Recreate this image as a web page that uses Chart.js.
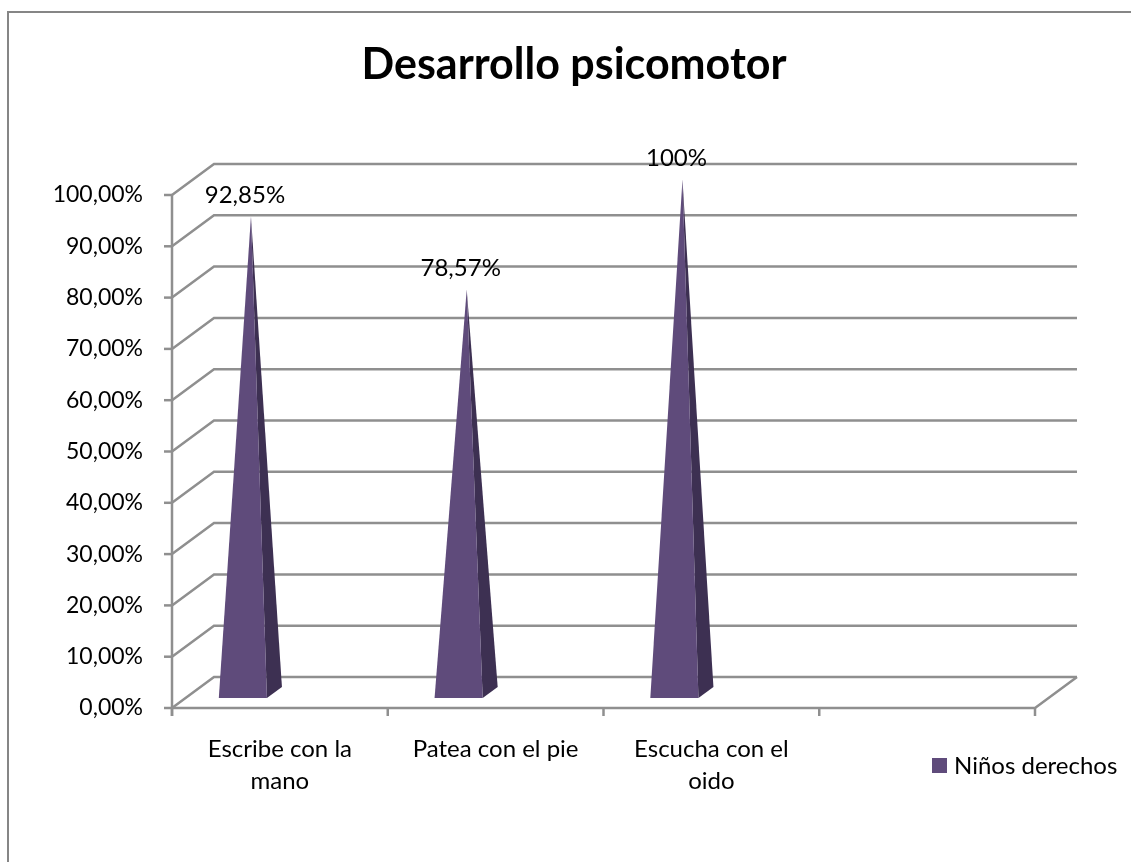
<!DOCTYPE html>
<html>
<head>
<meta charset="utf-8">
<title>Desarrollo psicomotor</title>
<script src="https://cdn.jsdelivr.net/npm/chart.js@4.4.1/dist/chart.umd.min.js"></script>
<style>
    html, body { margin: 0; padding: 0; background: #fff; }
    #wrap { position: relative; width: 1131px; height: 862px; }
</style>
</head>
<body>
<div id="wrap"><canvas id="chart" width="1131" height="862"></canvas></div>
<script>
// ── Data ────────────────────────────────────────────────
const categories = [['Escribe con la', 'mano'], 'Patea con el pie', ['Escucha con el', 'oido'], ''];
const seriesName = 'Niños derechos';
const seriesValues = [0.9285, 0.7857, 1.0, null];
const valueLabels = ['92,85%', '78,57%', '100%', ''];
const yTickLabels = ['0,00%', '10,00%', '20,00%', '30,00%', '40,00%', '50,00%',
                     '60,00%', '70,00%', '80,00%', '90,00%', '100,00%'];
const chartTitle = 'Desarrollo psicomotor';

// ── Look ────────────────────────────────────────────────
const FONT = 'Lato, "Open Sans", sans-serif';
const GRID = '#8f8f8f';
const FACE = '#5f4b7b';
const SIDE = '#3d3052';
const DEPTH_X = 42, DEPTH_Y = -31;

// 3D walls, floor, axis ticks
const wallPlugin = {
    id: 'walls',
    beforeDatasetsDraw(chart) {
        const { ctx, chartArea: a, scales: { x, y } } = chart;
        ctx.save();
        ctx.strokeStyle = GRID;
        ctx.lineWidth = 2.5;
        ctx.lineCap = 'butt';

        // back wall gridlines + left wall diagonals
        y.ticks.forEach(t => {
            const yf = y.getPixelForValue(t.value);
            ctx.beginPath();
            ctx.moveTo(a.left, yf);
            ctx.lineTo(a.left + DEPTH_X, yf + DEPTH_Y);
            ctx.lineTo(a.right + DEPTH_X, yf + DEPTH_Y);
            ctx.stroke();
            // tick mark
            ctx.beginPath();
            ctx.moveTo(a.left - 8, yf);
            ctx.lineTo(a.left, yf);
            ctx.stroke();
        });

        // front floor edge + right floor diagonal
        ctx.beginPath();
        ctx.moveTo(a.left, a.bottom);
        ctx.lineTo(a.right, a.bottom);
        ctx.lineTo(a.right + DEPTH_X, a.bottom + DEPTH_Y);
        ctx.stroke();

        // vertical axis
        ctx.beginPath();
        ctx.moveTo(a.left, y.getPixelForValue(1));
        ctx.lineTo(a.left, a.bottom + 8);
        ctx.stroke();

        // category boundary ticks
        const slot = x.getPixelForValue(1) - x.getPixelForValue(0);
        for (let i = 0; i <= categories.length; i++) {
            const bx = x.getPixelForValue(0) - slot / 2 + i * slot;
            ctx.beginPath();
            ctx.moveTo(bx, a.bottom);
            ctx.lineTo(bx, a.bottom + 8);
            ctx.stroke();
        }
        ctx.restore();
    },

    // pyramids, value labels, title, legend, frame
    afterDatasetsDraw(chart) {
        const { ctx, scales: { x } } = chart;
        const slot = x.getPixelForValue(1) - x.getPixelForValue(0);
        const meta = chart.getDatasetMeta(0);
        ctx.save();
        meta.data.forEach((el, i) => {
            if (seriesValues[i] == null) return;
            const fl = el.x - 0.283 * slot;
            const fr = el.x - 0.060 * slot;
            const by = el.base - 10;
            const ax = el.x - 0.134 * slot;
            const ay = el.y - 15.5;

            ctx.fillStyle = SIDE;
            ctx.beginPath();
            ctx.moveTo(fr, by);
            ctx.lineTo(fr + 15, by - 11);
            ctx.lineTo(ax, ay);
            ctx.closePath();
            ctx.fill();

            ctx.fillStyle = FACE;
            ctx.beginPath();
            ctx.moveTo(fl, by);
            ctx.lineTo(fr, by);
            ctx.lineTo(ax, ay);
            ctx.closePath();
            ctx.fill();

            ctx.fillStyle = '#000';
            ctx.font = '24px ' + FONT;
            ctx.textAlign = 'center';
            ctx.textBaseline = 'middle';
            ctx.fillText(valueLabels[i], ax - 6, ay - 21);
        });

        // title
        ctx.fillStyle = '#000';
        ctx.font = 'bold 43px ' + FONT;
        ctx.textAlign = 'center';
        ctx.textBaseline = 'alphabetic';
        ctx.fillText(chartTitle, 574, 79);

        // legend
        ctx.fillStyle = FACE;
        ctx.fillRect(932, 758, 15, 15);
        ctx.fillStyle = '#000';
        ctx.font = '24px ' + FONT;
        ctx.textAlign = 'left';
        ctx.textBaseline = 'middle';
        ctx.fillText(seriesName, 954, 766);

        // outer frame (top and left edges visible)
        ctx.strokeStyle = '#868686';
        ctx.lineWidth = 2;
        ctx.beginPath();
        ctx.moveTo(8, 862);
        ctx.lineTo(8, 12);
        ctx.lineTo(1131, 12);
        ctx.stroke();
        ctx.restore();
    }
};

// ── Chart ───────────────────────────────────────────────
new Chart(document.getElementById('chart'), {
    type: 'bar',
    data: {
        labels: categories,
        datasets: [{
            label: seriesName,
            data: seriesValues,
            backgroundColor: 'rgba(0,0,0,0)',
            borderWidth: 0
        }]
    },
    options: {
        responsive: false,
        animation: false,
        layout: { padding: { top: 195, left: 8, right: 96, bottom: 54 } },
        plugins: {
            legend: { display: false },
            title: { display: false },
            tooltip: { enabled: false }
        },
        scales: {
            x: {
                grid: { display: false, drawTicks: false },
                border: { display: false },
                afterFit: s => { s.height = 100; },
                ticks: {
                    color: '#000',
                    padding: 26,
                    maxRotation: 0,
                    autoSkip: false,
                    font: { family: FONT, size: 24, lineHeight: 1.3 }
                }
            },
            y: {
                min: 0,
                max: 1,
                grid: { display: false, drawTicks: false },
                border: { display: false },
                afterFit: s => { s.width = 164; },
                ticks: {
                    stepSize: 0.1,
                    color: '#000',
                    padding: 29,
                    font: { family: FONT, size: 23 },
                    callback: (v, i) => yTickLabels[i]
                }
            }
        }
    },
    plugins: [wallPlugin]
});
</script>
</body>
</html>
